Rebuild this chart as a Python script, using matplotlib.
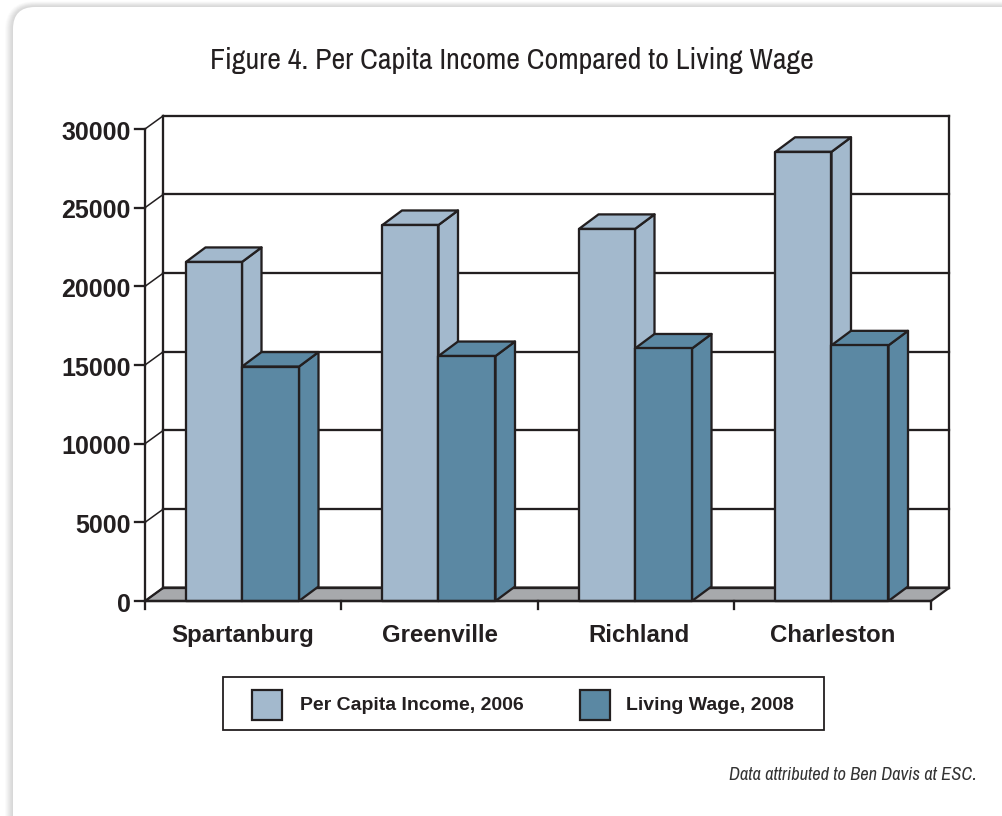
import matplotlib
matplotlib.use('Agg')
import matplotlib.pyplot as plt
from matplotlib.patches import FancyBboxPatch, Polygon, Rectangle

title = 'Figure 4. Per Capita Income Compared to Living Wage'
cities = ['Spartanburg', 'Greenville', 'Richland', 'Charleston']
income = [21550, 23900, 23650, 28550]
living = [14900, 15570, 16050, 16250]
series_names = ['Per Capita Income, 2006', 'Living Wage, 2008']
yticks = [0, 5000, 10000, 15000, 20000, 25000, 30000]
source = 'Data attributed to Ben Davis at ESC.'

LIGHT, DARK, GREY, INK = '#A3B9CD', '#5B88A3', '#A7A9AC', '#231F20'
NARROW = ['Archivo Narrow', 'Liberation Sans']
BOLD = ['Liberation Sans']

W, H = 1003, 816
fig = plt.figure(figsize=(W / 100, H / 100), dpi=100, facecolor='white')

# page panel, in pixel coordinates
bg = fig.add_axes([0, 0, 1, 1])
bg.set_xlim(0, W); bg.set_ylim(H, 0); bg.axis('off')
ramp = ['#FBFBFB', '#F6F6F6', '#F1F1F1', '#EBEBEB', '#E6E6E6', '#E0E0E0', '#DCDCDC', '#D8D8D8']
for i, c in enumerate(ramp):
    g = len(ramp) - i
    bg.add_patch(FancyBboxPatch((13 - g, 7 - g * 0.7), 1040 + 2 * g, 860 + 2 * g,
                                boxstyle='round,pad=0,rounding_size=%d' % (22 + g),
                                fc=c, ec='none'))
bg.add_patch(FancyBboxPatch((13, 7), 1040, 860, boxstyle='round,pad=0,rounding_size=22',
                            fc='white', ec='none'))

# chart axes: the front plane of the 3-D box
L, R, T, B = 145, 931, 129, 601
ax = fig.add_axes([L / W, 1 - B / H, (R - L) / W, (B - T) / H])
ax.set_xlim(0, len(cities)); ax.set_ylim(0, 30000)
ax.axis('off')
px_x = len(cities) / (R - L)
px_y = 30000 / (B - T)
DX, DY = 18.5 * px_x, 13.4 * px_y
BDX, BDY = 19.5 * px_x, 14.5 * px_y
LW = 1.65

top = yticks[-1]
ax.add_patch(Polygon([(0, 0), (DX, DY), (len(cities) + DX, DY), (len(cities), 0)],
                     fc=GREY, ec=INK, lw=LW, clip_on=False, zorder=1, joinstyle='miter'))
for v in yticks:
    ax.plot([0, DX], [v, v + DY], color=INK, lw=1.1, clip_on=False, zorder=1.5)
    ax.plot([DX, len(cities) + DX], [v + DY, v + DY], color=INK, lw=LW, clip_on=False, zorder=1.5)
    ax.plot([-10 * px_x, 0], [v, v], color=INK, lw=LW, clip_on=False, zorder=1.5)
    ax.text(-14 * px_x, v - px_y, str(v), ha='right', va='center_baseline', fontsize=18,
            fontweight='bold', family=BOLD, color=INK, clip_on=False)
ax.plot([0, 0], [0, top], color=INK, lw=LW, clip_on=False, zorder=1.6)
ax.plot([DX, DX], [DY, top + DY], color=INK, lw=LW, clip_on=False, zorder=1.6)
ax.plot([len(cities) + DX] * 2, [DY, top + DY], color=INK, lw=LW, clip_on=False, zorder=1.6)
ax.plot([0, len(cities)], [0, 0], color=INK, lw=LW, clip_on=False, zorder=9)
for i in range(len(cities) + 1):
    ax.plot([i, i], [0, -8 * px_y], color=INK, lw=LW, clip_on=False, zorder=1.6)


def bar3d(x0, x1, v, color, z):
    kw = dict(fc=color, ec=INK, lw=LW, clip_on=False, zorder=z, joinstyle='round')
    ax.add_patch(Polygon([(x1, 0), (x1 + BDX, BDY), (x1 + BDX, v + BDY), (x1, v)], **kw))
    ax.add_patch(Polygon([(x0, v), (x0 + BDX, v + BDY), (x1 + BDX, v + BDY), (x1, v)], **kw))
    ax.add_patch(Rectangle((x0, 0), x1 - x0, v, **kw))


OFF, W1, W2 = 41 * px_x, 56 * px_x, 57 * px_x
label_shift = [-1, 0, 2, -1]
for i, (a, b) in enumerate(zip(income, living)):
    bar3d(i + OFF, i + OFF + W1, a, LIGHT, 2 + i)
    bar3d(i + OFF + W1, i + OFF + W1 + W2, b, DARK, 2.5 + i)
    ax.text(i + OFF + W1 + (2 + label_shift[i]) * px_x, -34.5 * px_y, cities[i], ha='center', va='center',
            fontsize=17.3, fontweight='bold', family=BOLD, color=INK, clip_on=False)

bg.text(512, 60, title, ha='center', va='center', fontsize=21.6, fontweight='semibold', family=NARROW, color=INK)
bg.text(977, 775, source, ha='right', va='center', fontsize=13.3, family=NARROW, style='italic', color='#333333')

# legend
leg = fig.add_axes([0, 0, 1, 1]); leg.set_xlim(0, W); leg.set_ylim(H, 0); leg.axis('off')
leg.add_patch(Rectangle((223, 677), 601, 53, fc='white', ec=INK, lw=1.3))
for x, c, tx, name in zip([252, 580], [LIGHT, DARK], [300, 626], series_names):
    leg.add_patch(Rectangle((x, 690), 30, 30, fc=c, ec=INK, lw=1.6))
    leg.text(tx, 705.5, name, ha='left', va='center', fontsize=14, fontweight='bold', family=BOLD, color=INK)

fig.savefig('out.png', dpi=100)
